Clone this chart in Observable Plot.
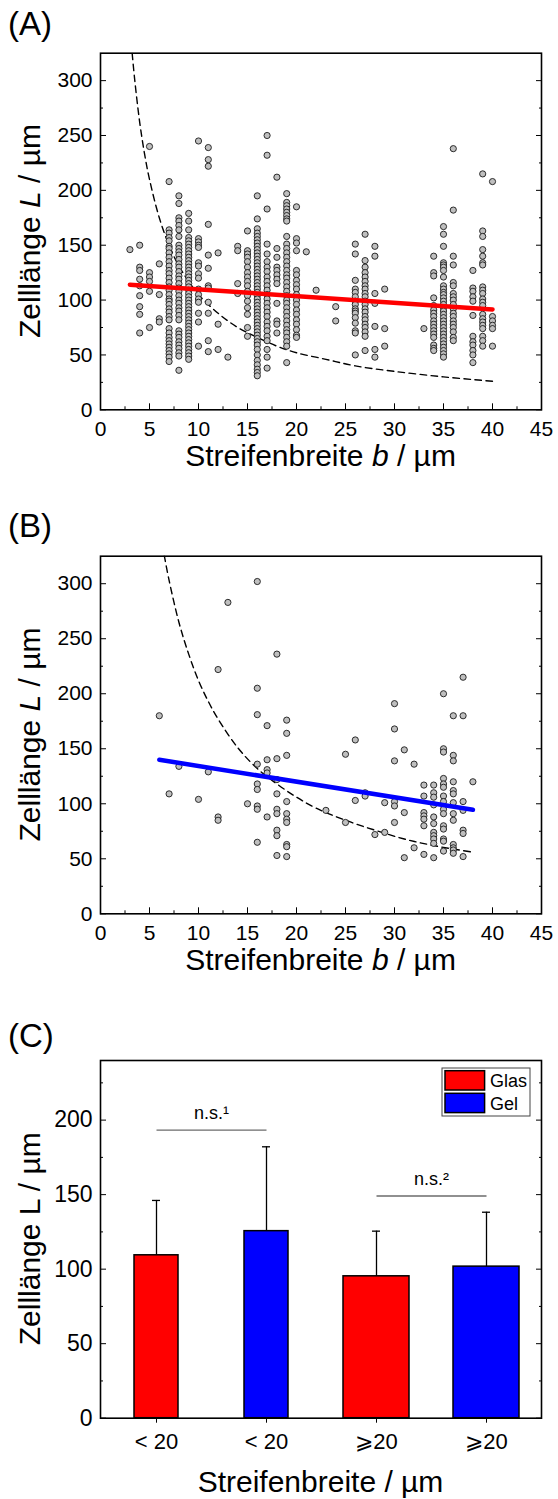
<!DOCTYPE html>
<html><head><meta charset="utf-8">
<script src="https://cdn.jsdelivr.net/npm/d3@7"></script>
<script src="https://cdn.jsdelivr.net/npm/@observablehq/plot@0.6"></script>
<style>
body{margin:0;background:#fff}
#wrap{position:relative;width:558px;height:1499px;overflow:hidden;background:#fff}
#wrap svg{position:absolute;left:0}
</style></head><body><div id="wrap"></div>
<script>
const FONT = "'Liberation Sans', Arial, Helvetica, sans-serif";

// ---------- Panel A: Glas ----------
const glasWidths = [3,4,5,6,7,8,9,10,11,12,13,14,15,16,17,18,19,20,21,22,24,26,27,28,29,33,34,35,36,38,39,40];
const glasLengths = [
  [146],
  [150,130,127,119,113,104,94,87,70],
  [240,125,121,117,108,75],
  [133,105,83,80],
  [208,164,161,157,154,149,147,143,139,135,131,127,124,120,116,112,109,105,101,99,96,92,89,85,82,74,70,66,63,60,57,54,51,48,44],
  [195,188,175,172,168,164,158,150,147,144,141,137,133,130,126,122,119,115,111,108,104,100,97,93,90,86,82,72,69,66,62,59,56,52,49,36],
  [179,172,164,157,154,151,148,145,142,139,136,133,130,127,124,121,118,115,112,109,106,103,100,97,94,91,88,85,82,79,76,73,70,67,64,61,58,55,52,49,46],
  [245,156,153,150,148,134,131,124,120,110,105,101,98,88,80,58],
  [239,228,222,169,141,129,113,111,98,88,63,53],
  [143,78,55],
  [48],
  [149,145,115,106],
  [163,145,142,139,135,130,125,121,117,113,108,104,99,93,87,75,67],
  [195,174,165,161,158,155,152,149,146,143,140,137,134,131,128,125,122,119,116,113,110,107,104,101,98,95,92,89,86,83,80,77,74,71,68,65,62,59,55,50,45,41,37,34,31],
  [250,232,183,151,142,135,130,126,121,117,113,109,105,101,97,93,89,85,80,76,72,67,63,55,48,38],
  [212,147,139,130,127,123,119,115,97,81,78,70],
  [197,189,186,183,180,177,174,172,158,151,147,143,139,135,131,127,123,120,116,112,108,104,100,97,93,89,85,81,77,73,70,66,62,58,43],
  [185,156,152,145,127,123,118,114,110,105,100,96,91,87,82,78,73,68,66],
  [144],
  [109],
  [94,81],
  [151,142,118,110,107,103,99,96,92,90,88,84,79,72,70,50],
  [160,136,130,125,121,117,113,110,106,103,99,96,92,89,85,82,78,75,71,67,54],
  [149,140,106,97,76,55,48],
  [110,74,58],
  [74],
  [140,125,122,102,95,91,88,85,81,78,75,72,69,66,59,56,54],
  [167,160,149,134,132,130,127,121,113,110,107,105,102,99,96,93,90,87,84,81,78,75,72,69,66,63,60,57,54,51,48],
  [238,182,140,132,116,113,106,103,100,96,92,88,85,81,78,75,71,66,63],
  [127,111,108,103,99,86,67,62,59,54,50,43],
  [215,163,158,146,140,134,132,112,109,106,101,98,95,87,83,80,77,74,67,63,58],
  [208,85,81,77,74,58]
];
const glasFitB = [3, 40];
const glasFitL = [114, 91.5];
const glasGuideB = [3.23,3.5,4,4.5,5,6,7,8,9,10,12,14,16,18,20,23,26,30,35,40];
const glasGuideL = [325,300,262,233,210,175,150,131,117,105,88,75,66,58,52,46,40,35,30,26];

// ---------- Panel B: Gel ----------
const gelWidths = [6,7,8,10,11,12,13,15,16,17,18,19,23,25,26,27,28,29,30,31,32,33,34,35,36,37,38];
const gelLengths = [
  [180],[109],[134],[104],[129],
  [222,88,85],
  [283],
  [100],
  [302,205,181,136,118,113,98,95,65],
  [171,140,131,128,88],
  [236,141,122,109,95,91,76,71,53],
  [176,164,144,102,91,86,83,63,61,52],
  [94],
  [145,83],
  [158,103],
  [110,107],
  [72],
  [101,74],
  [191,168,139,102,98,83],
  [149,92,51],
  [136,60],
  [117,107,92,89,86,80,54],
  [117,110,106,99,88,82,74,71,68,64,51],
  [200,150,147,123,118,115,107,102,95,91,80,77,68,66,57],
  [180,144,139,120,112,109,101,91,85,63,60,58,55],
  [215,180,102,94,76,73,52],
  [120]
];
const gelFitB = [6, 38];
const gelFitL = [140, 94.5];
const gelGuideB = [6.5,7,8,9,10,11,12,14,16,18,20,22,25,28,31,34,38];
const gelGuideL = [326,303,265,236,212,193,177,151,132,118,106,96,85,76,68,62,56];

// ---------- Panel C: bars ----------
const groupKeys   = ["Glas <20","Gel <20","Glas ≥20","Gel ≥20"];
const groupLabels = ["< 20","< 20","⩾20","⩾20"];
const groupWide   = [false,false,true,true];
const substrates  = ["Glas","Gel","Glas","Gel"];
const means       = [109.3,125.5,95.2,101.7];
const upperErr    = [146.1,182.1,125.5,138.2];
const sigFrom  = ["Glas <20","Glas ≥20"];
const sigTo    = ["Gel <20","Gel ≥20"];
const sigLevel = [193.3,149.1];
const sigText  = ["n.s.¹","n.s.²"];
const legendItems  = ["Glas","Gel"];
const legendColors = ["#ff0000","#0000ff"];

const yTicksMajor = [0,50,100,150,200,250,300];
const yTicksMinor = [25,75,125,175,225,275];
const xTicksMajor = [0,5,10,15,20,25,30,35,40,45];
const xTicksMinor = [2.5,7.5,12.5,17.5,22.5,27.5,32.5,37.5,42.5];

const wrap = document.getElementById("wrap");
const blank = () => "";

function addText(svg, x, y, parts, size, opts = {}) {
  const t = d3.select(svg).append("text")
    .attr("font-family", FONT).attr("font-size", size)
    .attr("fill", "black").attr("text-anchor", opts.anchor || "middle");
  if (opts.rotate) t.attr("transform", `translate(${x},${y}) rotate(-90)`);
  else t.attr("x", x).attr("y", y);
  parts.forEach(([s, it]) => t.append("tspan").attr("font-style", it ? "italic" : null).text(s));
}

function scatterPanel(o) {
  const pts = o.widths.flatMap((b, i) => o.lengths[i].map(L => ({b, L})));
  const fit = o.fitB.map((b, i) => ({b, L: o.fitL[i]}));
  const guide = o.guideB.map((b, i) => ({b, L: o.guideL[i]}));
  return Plot.plot({
    width: 558, height: o.height, marginTop: o.marginTop, marginBottom: o.marginBottom,
    marginLeft: 100, marginRight: 17,
    style: {fontFamily: FONT, fontSize: "21px", color: "black", background: "white"},
    x: {domain: [0, 45]},
    y: {domain: [0, 325]},
    marks: [
      Plot.line(guide, {x: "b", y: "L", stroke: "black", strokeWidth: 1.4, strokeDasharray: "6.5,4.5", curve: "catmull-rom", clip: true}),
      Plot.dot(pts, {x: "b", y: "L", r: 3.1, fill: "#bfbfbf", stroke: "#1a1a1a", strokeWidth: 0.9}),
      Plot.line(fit, {x: "b", y: "L", stroke: o.lineColor, strokeWidth: 4.5}),
      Plot.axisX({ticks: xTicksMajor, tickSize: -6, tickFormat: blank, label: null}),
      Plot.axisX({ticks: xTicksMinor, tickSize: -3, tickFormat: blank, label: null}),
      Plot.axisX({ticks: xTicksMajor, tickSize: 0, tickPadding: 11, label: null}),
      Plot.axisY({ticks: yTicksMajor, tickSize: -6, tickFormat: blank, label: null}),
      Plot.axisY({ticks: yTicksMinor, tickSize: -3, tickFormat: blank, label: null}),
      Plot.axisY({ticks: yTicksMajor, tickSize: 0, tickPadding: 8, label: null}),
      Plot.axisY({anchor: "right", ticks: yTicksMajor, tickSize: -6, tickFormat: blank, label: null}),
      Plot.axisY({anchor: "right", ticks: yTicksMinor, tickSize: -3, tickFormat: blank, label: null}),
      Plot.frame({stroke: "black", strokeWidth: 1.6})
    ]
  });
}

// Panel A
const svgA = scatterPanel({widths: glasWidths, lengths: glasLengths, fitB: glasFitB, fitL: glasFitL,
  guideB: glasGuideB, guideL: glasGuideL, lineColor: "#ff0000", height: 480, marginTop: 52.7, marginBottom: 70.7});
svgA.style.top = "0px";
addText(svgA, 8, 35, [["(A)"]], 33, {anchor: "start"});
addText(svgA, 320.5, 466, [["Streifenbreite "], ["b", true], [" / µm"]], 30);
addText(svgA, 40, 231, [["Zelllänge "], ["L", true], [" / µm"]], 30, {rotate: true});
wrap.appendChild(svgA);

// Panel B
const svgB = scatterPanel({widths: gelWidths, lengths: gelLengths, fitB: gelFitB, fitL: gelFitL,
  guideB: gelGuideB, guideL: gelGuideL, lineColor: "#0000ff", height: 500, marginTop: 75.7, marginBottom: 66.7});
svgB.style.top = "480px";
addText(svgB, 8, 56.7, [["(B)"]], 33, {anchor: "start"});
addText(svgB, 320.5, 490, [["Streifenbreite "], ["b", true], [" / µm"]], 30);
addText(svgB, 40, 254.5, [["Zelllänge "], ["L", true], [" / µm"]], 30, {rotate: true});
wrap.appendChild(svgB);

// Panel C
const bars = groupKeys.map((g, i) => ({g, sub: substrates[i], wide: groupWide[i], mean: means[i], upper: upperErr[i]}));
const sig = sigFrom.map((f, i) => ({from: f, to: sigTo[i], level: sigLevel[i], label: sigText[i]}));
const labelOf = new Map(groupKeys.map((g, i) => [g, groupLabels[i]]));
const cMajor = [0,50,100,150,200];
const cMinor = [25,75,125,175,225];
const svgC = Plot.plot({
  width: 558, height: 519, marginTop: 80, marginBottom: 81.3, marginLeft: 100, marginRight: 17,
  style: {fontFamily: FONT, fontSize: "22px", color: "black", background: "white"},
  x: {type: "band", domain: groupKeys, padding: 0},
  y: {domain: [0, 240]},
  color: {domain: legendItems, range: legendColors},
  marks: [
    Plot.barY(bars.filter(d => !d.wide), {x: "g", y: "mean", fill: "sub", stroke: "black", strokeWidth: 1.5, insetLeft: 33, insetRight: 33}),
    Plot.barY(bars.filter(d => d.wide), {x: "g", y: "mean", fill: "sub", stroke: "black", strokeWidth: 1.5, insetLeft: 22, insetRight: 22}),
    Plot.ruleX(bars, {x: "g", y1: "mean", y2: "upper", stroke: "black", strokeWidth: 1.3}),
    Plot.tickY(bars, {x: "g", y: "upper", stroke: "black", strokeWidth: 1.3, insetLeft: 51, insetRight: 51}),
    Plot.link(sig, {x1: "from", x2: "to", y1: "level", y2: "level", stroke: "#6b6b6b", strokeWidth: 1.3}),
    Plot.text(sig, {x: "from", y: "level", text: "label", dx: 55, dy: -17, fontSize: 18}),
    Plot.axisX({tickSize: 5, tickPadding: 10, tickFormat: d => labelOf.get(d), label: null}),
    Plot.axisY({ticks: cMajor, tickSize: -6, tickFormat: blank, label: null}),
    Plot.axisY({ticks: cMinor, tickSize: -3, tickFormat: blank, label: null}),
    Plot.axisY({ticks: cMajor, tickSize: 0, tickPadding: 8, label: null, fontSize: 23}),
    Plot.axisY({anchor: "right", ticks: cMajor, tickSize: -6, tickFormat: blank, label: null}),
    Plot.axisY({anchor: "right", ticks: cMinor, tickSize: -3, tickFormat: blank, label: null}),
    Plot.frame({stroke: "black", strokeWidth: 1.6})
  ]
});
svgC.style.top = "980px";
addText(svgC, 8, 66.7, [["(C)"]], 33, {anchor: "start"});
addText(svgC, 320.5, 511.7, [["Streifenbreite / µm"]], 30);
addText(svgC, 40, 258.8, [["Zelllänge L / µm"]], 30, {rotate: true});
// legend
const lg = d3.select(svgC).append("g").attr("text-anchor", "start");
lg.append("rect").attr("x", 442).attr("y", 88).attr("width", 88).attr("height", 48)
  .attr("fill", "white").attr("stroke", "#444").attr("stroke-width", 1);
legendItems.forEach((name, i) => {
  lg.append("rect").attr("x", 445).attr("y", 90.7 + i * 22.6).attr("width", 39.6).attr("height", 19.3)
    .attr("fill", legendColors[i]).attr("stroke", "black").attr("stroke-width", 1.5);
  lg.append("text").attr("x", 490).attr("y", 107.3 + i * 22.7).attr("font-family", FONT)
    .attr("text-anchor", "start").attr("font-size", 18).attr("fill", "black").text(name);
});
wrap.appendChild(svgC);
</script></body></html>
